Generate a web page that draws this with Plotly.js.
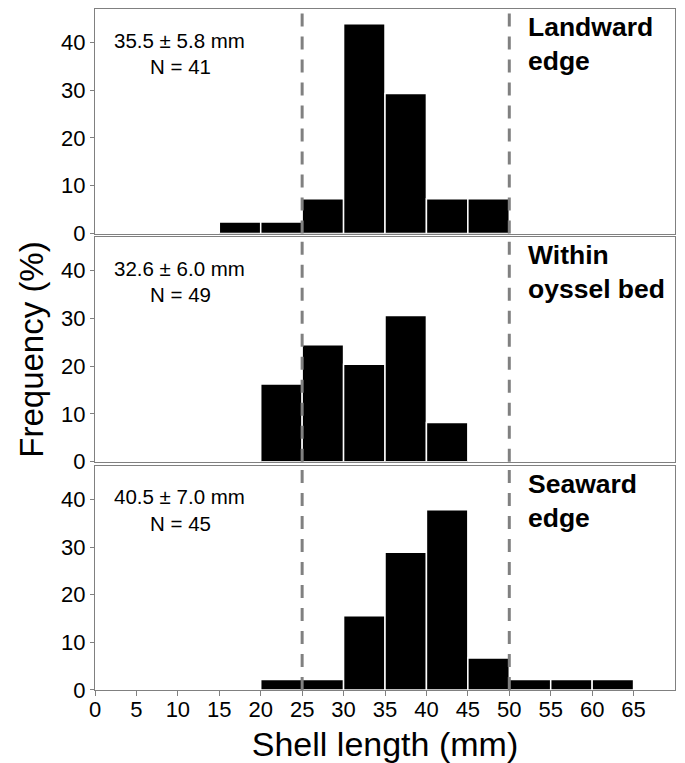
<!DOCTYPE html>
<html><head><meta charset="utf-8">
<script src="https://cdn.plot.ly/plotly-3.0.1.min.js"></script>
<style>html,body{margin:0;padding:0;background:#fff}#chart{width:685px;height:763px}</style>
</head><body><div id="chart"></div>
<script>
// Bin left edges (mm), bin width 5
const binStarts = [15, 20, 25, 30, 35, 40, 45, 50, 55, 60];
const landward = [2.4, 2.4, 7.3, 43.9, 29.3, 7.3, 7.3, 0, 0, 0];
const within   = [0, 16.3, 24.5, 20.4, 30.6, 8.2, 0, 0, 0, 0];
const seaward  = [0, 2.2, 2.2, 15.6, 28.9, 37.8, 6.7, 2.2, 2.2, 2.2];
const panelNames = ["Landward<br>edge", "Within<br>oyssel bed", "Seaward<br>edge"];
const statsText = ["35.5 ± 5.8 mm", "32.6 ± 6.0 mm", "40.5 ± 7.0 mm"];
const nText = ["N = 41", "N = 49", "N = 45"];
const refLines = [25, 50];
const xTicks = [0, 5, 10, 15, 20, 25, 30, 35, 40, 45, 50, 55, 60, 65];
const yTicks = [0, 10, 20, 30, 40];

const binWidth = 5;
const centers = binStarts.map(s => s + binWidth / 2);
const series = [landward, within, seaward];
const axSuffix = ["", "2", "3"];
const domains = [[0.6703, 1], [0.3352, 0.6648], [0, 0.3289]];
const FONT = "Arial, 'Liberation Sans', sans-serif";

const data = series.map((vals, i) => ({
  type: "bar",
  x: centers,
  y: vals,
  width: binWidth,
  xaxis: "x" + axSuffix[i],
  yaxis: "y" + axSuffix[i],
  marker: {color: "#000", line: {color: "#fff", width: 1.5}},
  hoverinfo: "x+y",
  showlegend: false
}));

const layout = {
  width: 685, height: 763,
  margin: {l: 95, r: 10, t: 9, b: 73},
  paper_bgcolor: "#fff", plot_bgcolor: "#fff",
  font: {family: FONT, color: "#000"},
  bargap: 0,
  shapes: [],
  annotations: []
};

for (let i = 0; i < 3; i++) {
  const s = axSuffix[i];
  const last = i === 2;
  layout["xaxis" + s] = {
    domain: [0, 1], anchor: "y" + s, range: [0, 70],
    tickvals: xTicks, ticktext: xTicks.map(String),
    showticklabels: last, ticks: last ? "outside" : "", ticklen: 5, tickcolor: "#808080",
    ticklabelstandoff: -5,
    showline: true, mirror: true, linecolor: "#808080", linewidth: 1,
    showgrid: false, zeroline: false,
    tickfont: {size: 22, family: FONT, color: "#000"},
    title: last ? {text: "Shell length (mm)", font: {size: 34, family: FONT, color: "#000"}, standoff: 14} : undefined
  };
  if (i > 0) layout["xaxis" + s].matches = "x";
  layout["yaxis" + s] = {
    domain: domains[i], anchor: "x" + s, range: [0, 47],
    tickvals: yTicks, ticks: "outside", ticklen: 4, tickcolor: "#808080",
    showline: true, mirror: true, linecolor: "#808080", linewidth: 1,
    showgrid: false, zeroline: false,
    tickfont: {size: 22, family: FONT, color: "#000"}
  };
  refLines.forEach(xv => layout.shapes.push({
    type: "line", xref: "x" + s, yref: "y" + s + " domain",
    x0: xv, x1: xv, y0: 0, y1: 1, layer: "above",
    line: {color: "#808080", width: 3, dash: "13px,10px"}
  }));
  layout.annotations.push({
    xref: "x" + s, yref: "y" + s, x: 10.2, y: 40.5, text: statsText[i],
    showarrow: false, font: {size: 20.5, family: FONT, color: "#000"}
  });
  layout.annotations.push({
    xref: "x" + s, yref: "y" + s, x: 10.3, y: 35, text: nText[i],
    showarrow: false, font: {size: 20.5, family: FONT, color: "#000"}
  });
  layout.annotations.push({
    xref: "x" + s, yref: "y" + s + " domain", x: 52.0, y: 0.995, xanchor: "left", yanchor: "top",
    align: "left", text: "<b>" + panelNames[i] + "</b>",
    showarrow: false, font: {size: 26.5, family: FONT, color: "#000"}
  });
}

layout.annotations.push({
  xref: "paper", yref: "paper", x: -0.11, y: 0.5, textangle: -90,
  text: "Frequency (%)", showarrow: false, xanchor: "center", yanchor: "middle",
  font: {size: 33, family: FONT, color: "#000"}
});

Plotly.newPlot("chart", data, layout, {displayModeBar: false, staticPlot: true});
</script></body></html>
